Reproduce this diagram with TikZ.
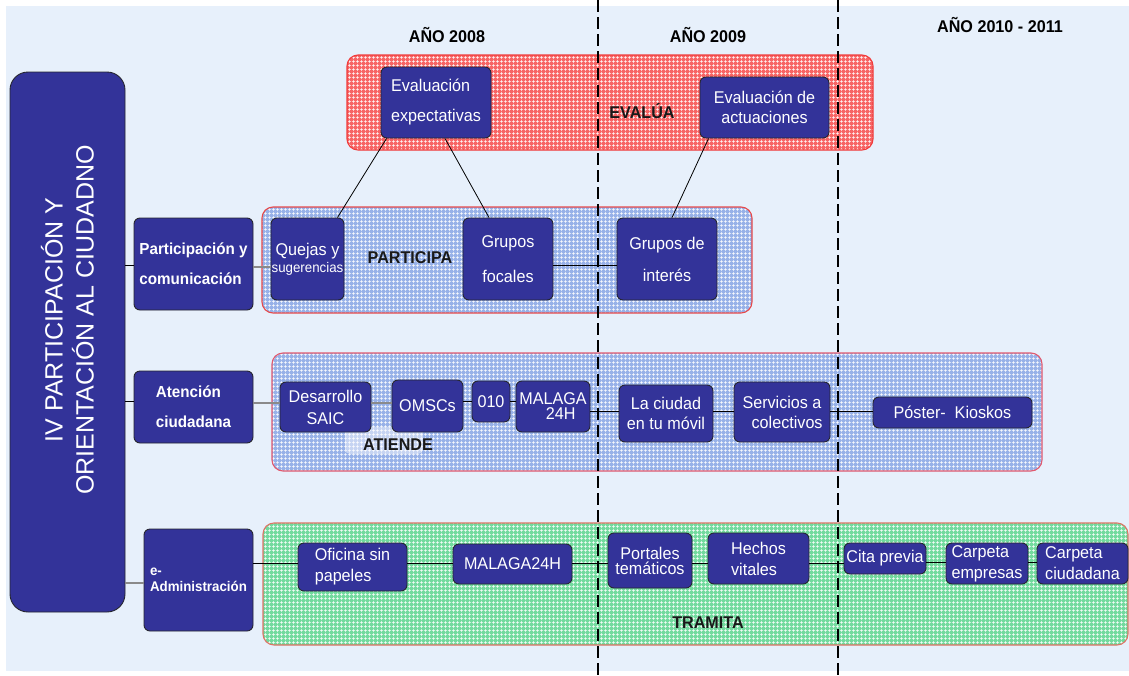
\documentclass[tikz,border=0pt]{standalone}
\usepackage{fontspec}
\setmainfont{Liberation Sans}
\newfontfamily\cond[FakeStretch=0.95]{Liberation Sans}
\usetikzlibrary{patterns}
\newcommand\fnt[2]{\cond\fontsize{#1}{#2}\selectfont}

% white mesh laid over the coloured areas
\pgfdeclarepatternformonly{meshgrid}{\pgfpointorigin}{\pgfqpoint{4pt}{4pt}}{\pgfqpoint{4pt}{4pt}}{%
  \pgfsetlinewidth{0.8pt}%
  \pgfpathmoveto{\pgfqpoint{0pt}{2pt}}\pgfpathlineto{\pgfqpoint{4pt}{2pt}}%
  \pgfpathmoveto{\pgfqpoint{2pt}{0pt}}\pgfpathlineto{\pgfqpoint{2pt}{4pt}}%
  \pgfusepath{stroke}%
}

\definecolor{bgblue}{HTML}{E7F0FB}
\definecolor{boxfill}{HTML}{333399}
\definecolor{boxedge}{HTML}{262630}
\definecolor{evalfill}{HTML}{F76464}
\definecolor{evaledge}{HTML}{F03C3C}
\definecolor{partfill}{HTML}{97B1E8}
\definecolor{partedge}{HTML}{E84A4A}
\definecolor{attedge}{HTML}{E25A6E}
\definecolor{tramfill}{HTML}{72DA9E}
\definecolor{tramedge}{HTML}{DE7466}
\definecolor{linkgray}{HTML}{8A8A8A}

\tikzset{
  box/.style={draw=boxedge, fill=boxfill, rounded corners=6pt, text=white,
              inner sep=0pt, align=center, line width=0.9pt},
  panel/.style={rounded corners=11pt, line width=1.1pt,
                pattern=meshgrid, pattern color=white},
  tag/.style={text=black!90, inner sep=0pt, font={\fnt{17}{17}\bfseries}},
  yeartag/.style={text=black, inner sep=0pt, font={\fnt{17}{17}\bfseries}},
  link/.style={draw=black, line width=0.8pt},
  softlink/.style={draw=linkgray, line width=1.2pt},
  yearline/.style={draw=black, line width=1.1pt, dash pattern=on 12pt off 5pt},
}

\begin{document}
\begin{tikzpicture}[x=1pt,y=-1pt]
\useasboundingbox (0,0) rectangle (1129,675);
\fill[white] (0,0) rectangle (1129,675);
\fill[bgblue] (6,6) rectangle (1129,671);

% coloured areas of each block
\path[preaction={fill=evalfill}, panel, draw=evaledge] (347,55) rectangle (873,150);
\path[preaction={fill=partfill}, panel, draw=partedge] (262,207) rectangle (752,313);
\path[preaction={fill=partfill}, panel, draw=attedge] (272,353) rectangle (1042,471);
\path[preaction={fill=tramfill}, panel, draw=tramedge] (263,523) rectangle (1128,645);
\path[preaction={fill=partfill!55!white}, rounded corners=5pt,
      pattern=meshgrid, pattern color=white] (345,427) rectangle (423,454);

% year separators
\draw[yearline] (598,0) -- (598,675);
\draw[yearline] (838,0) -- (838,675);

% year headings
\node[yeartag] (y2008) at (447,35) {AÑO 2008};
\node[yeartag] (y2009) at (708,35) {AÑO 2009};
\node[yeartag] (y2010) at (1000,25) {AÑO 2010 - 2011};

% block names
\node[tag] (tEvalua) at (642,111) {EVALÚA};
\node[tag] (tParticipa) at (410,258) {PARTICIPA};
\node[tag] (tAtiende) at (398,445) {ATIENDE};
\node[tag] (tTramita) at (708,623) {TRAMITA};

% main column
\node[box, rounded corners=18pt, minimum width=115pt, minimum height=540pt] (main) at (67.5,342) {};
\node[text=white, rotate=90, align=center, inner sep=0pt,
      font={\fontsize{25}{31}\selectfont}] (title) at (67.5,320)
      {IV PARTICIPACIÓN Y\\ORIENTACIÓN AL CIUDADNO};

% axes
\node[box, minimum width=119pt, minimum height=92pt, align=left,
      font={\fnt{16}{30}\bfseries}] (particip) at (193.5,264) {Participación y\\comunicación};
\node[box, minimum width=119pt, minimum height=72pt, align=left,
      font={\fnt{16}{30}\bfseries}] (atencion) at (193.5,407) {Atención\\ciudadana};
\node[box, minimum width=109pt, minimum height=102pt, align=left,
      font={\fnt{14}{16}\bfseries}] (eadmin) at (198.5,580) {e-\\Administración};

% EVALÚA
\node[box, minimum width=110pt, minimum height=71pt, align=left, font={\fnt{17}{30}}]
      (evexp) at (436,102.5) {Evaluación\\expectativas};
\node[box, minimum width=129pt, minimum height=61pt, font={\fnt{17}{20}}]
      (evact) at (764.5,107.5) {Evaluación de\\actuaciones};

% PARTICIPA
\node[box, minimum width=73pt, minimum height=82pt, font={\fnt{17}{17}}]
      (quejas) at (307.5,259) {Quejas y\\{\fnt{14}{14}sugerencias}};
\node[box, minimum width=90pt, minimum height=82pt, font={\fnt{17}{35}}]
      (gfocal) at (508,259) {Grupos\\focales};
\node[box, minimum width=100pt, minimum height=82pt, font={\fnt{17}{32}}]
      (ginter) at (667,259) {Grupos de\\interés};

% ATIENDE
\node[box, minimum width=91pt, minimum height=50pt, font={\fnt{17}{22}}]
      (desarrollo) at (325.5,407) {Desarrollo\\SAIC};
\node[box, minimum width=71pt, minimum height=52pt, font={\fnt{17}{17}}]
      (omscs) at (427.5,406) {OMSCs};
\node[box, minimum width=38pt, minimum height=41pt, font={\fnt{17}{17}}]
      (n010) at (491,401.5) {010};
\node[box, minimum width=74pt, minimum height=51pt, font={\fnt{17}{15}}]
      (malaga) at (553,406.5) {MALAGA\\\hspace*{0.9em}24H};
\node[box, minimum width=94pt, minimum height=57pt, font={\fnt{17}{20}}]
      (ciudad) at (666,413.5) {La ciudad\\en tu móvil};
\node[box, minimum width=96pt, minimum height=60pt, font={\fnt{17}{20}}]
      (servicios) at (782,412) {Servicios a\\\hspace*{0.6em}colectivos};
\node[box, minimum width=159pt, minimum height=31pt, font={\fnt{17}{17}}]
      (poster) at (952.5,412.5) {Póster-~ Kioskos};

% TRAMITA
\node[box, minimum width=109pt, minimum height=48pt, align=left, font={\fnt{17}{21}}]
      (oficina) at (352.5,567) {Oficina sin\\papeles};
\node[box, minimum width=119pt, minimum height=40pt, font={\fnt{17}{17}}]
      (malaga2) at (512.5,564) {MALAGA24H};
\node[box, minimum width=84pt, minimum height=55pt, font={\fnt{17}{15}}]
      (portales) at (650,560.5) {Portales\\temáticos};
\node[box, minimum width=101pt, minimum height=51pt, align=left, font={\fnt{17}{21}}]
      (hechos) at (758.5,558.5) {Hechos\\vitales};
\node[box, minimum width=82pt, minimum height=31pt, font={\fnt{17}{17}}]
      (cita) at (885,558.5) {Cita previa};
\node[box, minimum width=82pt, minimum height=41pt, align=left, font={\fnt{17}{21}}]
      (cempresas) at (987,563.5) {Carpeta\\empresas};
\node[box, minimum width=91pt, minimum height=41pt, align=left, font={\fnt{17}{21}}]
      (cciud) at (1082.5,563.5) {Carpeta\\ciudadana};

% connector levels
\coordinate (l265) at (0,265);
\coordinate (l267) at (0,267);
\coordinate (l401) at (0,401);
\coordinate (l403) at (0,403);
\coordinate (l411) at (0,411);
\coordinate (l562) at (0,562);
\coordinate (l563) at (0,563);
\coordinate (l583) at (0,583);

% connectors
\draw[link] (main.east |- l265) -- (particip.west |- l265);
\draw[link] (main.east |- l401) -- (atencion.west |- l401);
\draw[softlink] (main.east |- l583) -- (eadmin.west |- l583);
\draw[softlink] (particip.east |- l267) -- (quejas.west |- l267);
\draw[link] (gfocal.east |- l265) -- (ginter.west |- l265);
\draw[link] ([xshift=6pt]evexp.south west) -- ([xshift=-7pt]quejas.north east);
\draw[link] ([xshift=9pt]evexp.south) -- ([xshift=-19pt]gfocal.north);
\draw[link] ([xshift=9pt]evact.south west) -- ([xshift=5pt]ginter.north);

\draw[softlink] (atencion.east |- l403) -- (desarrollo.west |- l403);
\draw[softlink] (desarrollo.east |- l403) -- (omscs.west |- l403);
\draw[link] (omscs.east |- l401) -- (n010.west |- l401);
\draw[link] (n010.east |- l401) -- (malaga.west |- l401);
\draw[link] (malaga.east |- l411) -- (ciudad.west |- l411);
\draw[link] (ciudad.east |- l411) -- (servicios.west |- l411);
\draw[link] (servicios.east |- l411) -- (poster.west |- l411);

\draw[link] (eadmin.east |- l563) -- (oficina.west |- l563);
\draw[link] (oficina.east |- l563) -- (malaga2.west |- l563);
\draw[link] (malaga2.east |- l563) -- (portales.west |- l563);
\draw[link] (portales.east |- l563) -- (hechos.west |- l563);
\draw[link] (hechos.east |- l563) -- (cita.west |- l563);
\draw[link] (cita.east |- l562) -- (cempresas.west |- l562);
\draw[link] (cempresas.east |- l562) -- (cciud.west |- l562);
\end{tikzpicture}
\end{document}
